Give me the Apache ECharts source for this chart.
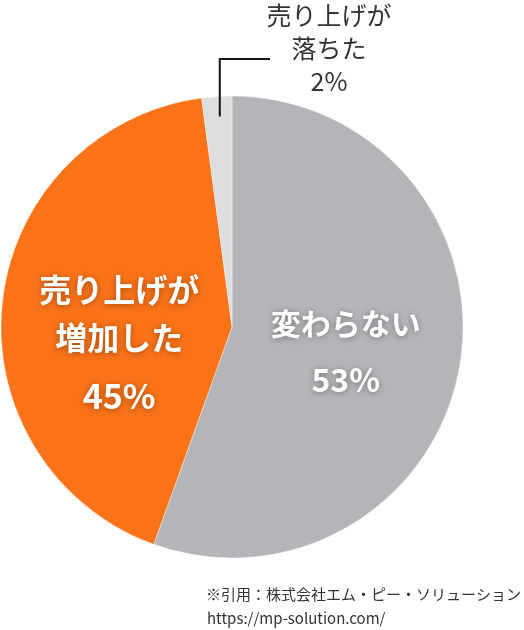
<!DOCTYPE html>
<html>
<head>
<meta charset="utf-8">
<script src="https://cdn.jsdelivr.net/npm/echarts@6/dist/echarts.min.js"></script>
<style>
html,body{margin:0;padding:0;background:#fff;}
#c{width:524px;height:630px;}
</style>
</head>
<body>
<div id="c"></div>
<script>
// Categories (clockwise from 12 o'clock)
const categories = ['変わらない', '売り上げが増加した', '売り上げが落ちた'];
// Slice shares as drawn in the picture
const shares = [55.5, 42.4, 2.1];
// Percent labels as printed
const percentLabels = ['53%', '45%', '2%'];
const colors = ['#b3b5b9', '#fa7319', '#dedede'];

const FONT = '"Noto Sans CJK JP", "Noto Sans", sans-serif';
const chart = echarts.init(document.getElementById('c'), null, {renderer: 'canvas'});

const shadow = {textShadowColor: 'rgba(0,0,0,0.35)', textShadowBlur: 6, textShadowOffsetX: 0, textShadowOffsetY: 1};

const mainData = [
  {
    value: shares[0], name: categories[0], itemStyle: {color: colors[0]},
    label: {
      position: 'inside', offset: [-3, 8],
      formatter: '{a|変わらない}\n{p|' + percentLabels[0] + '}',
      rich: {
        a: Object.assign({color: '#fff', fontSize: 30, fontWeight: 'bold', fontFamily: FONT, lineHeight: 48}, shadow),
        p: Object.assign({color: '#fff', fontSize: 32, fontWeight: 'bold', fontFamily: FONT, lineHeight: 64}, shadow)
      }
    }
  },
  {
    value: shares[1], name: categories[1], itemStyle: {color: colors[1]},
    label: {
      position: 'inside', offset: [5, 34],
      formatter: '{a|売り上げが}\n{a|増加した}\n{p|' + percentLabels[1] + '}',
      rich: {
        a: Object.assign({color: '#fff', fontSize: 32, fontWeight: 'bold', fontFamily: FONT, lineHeight: 48}, shadow),
        p: Object.assign({color: '#fff', fontSize: 34, fontWeight: 'bold', fontFamily: FONT, lineHeight: 70}, shadow)
      }
    }
  },
  {
    value: shares[2], name: categories[2], itemStyle: {color: colors[2]},
    label: {show: false}
  }
];

// Overlay series (transparent sectors) carrying the outside label and its leader line on top
const overlayData = shares.map(function (v, i) {
  const item = {value: v, name: categories[i], itemStyle: {color: 'rgba(0,0,0,0)', borderWidth: 0}, label: {show: false}, labelLine: {show: false}};
  if (i === 2) {
    item.label = {
      show: true, position: 'outside',
      formatter: '売り上げが\n落ちた\n' + percentLabels[2],
      color: '#333', fontSize: 25, fontFamily: FONT, lineHeight: 33, align: 'center'
    };
    item.labelLine = {show: true, length: 20, length2: 40, lineStyle: {color: '#111', width: 2}};
  }
  return item;
});

chart.setOption({
  animation: false,
  backgroundColor: '#fff',
  series: [{
    type: 'pie',
    center: [232, 327],
    radius: 231,
    startAngle: 90,
    clockwise: true,
    avoidLabelOverlap: false,
    itemStyle: {borderColor: 'rgba(255,255,255,0.6)', borderWidth: 0.6},
    labelLine: {show: false},
    emphasis: {disabled: true},
    silent: true,
    data: mainData
  }, {
    type: 'pie',
    z: 5,
    center: [232, 327],
    radius: 231,
    startAngle: 90,
    clockwise: true,
    avoidLabelOverlap: false,
    emphasis: {disabled: true},
    silent: true,
    data: overlayData,
    labelLayout: function (params) {
      if (params.dataIndex !== 2) return {};
      const pts = params.labelLinePoints;
      const s = pts ? pts[0] : [217, 97];
      const lx = s[0] + 3;
      const yTop = 59;
      return {
        x: 329, y: 48, align: 'center', verticalAlign: 'middle',
        labelLinePoints: [[lx, s[1] + 20], [lx, yTop], [270, yTop]]
      };
    }
  }],
  graphic: [
    {type: 'text', right: 3, top: 587, style: {text: '※引用：株式会社エム・ピー・ソリューション', fontSize: 15, fontFamily: FONT, fill: '#333'}},
    {type: 'text', left: 207, top: 611, style: {text: 'https://mp-solution.com/', fontSize: 15, fontFamily: FONT, fill: '#333'}}
  ]
});
</script>
</body>
</html>
